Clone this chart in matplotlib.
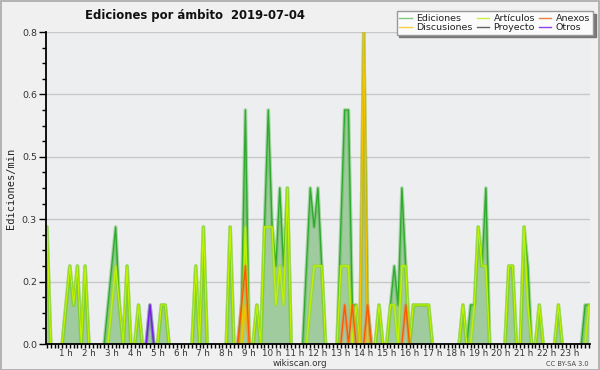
import matplotlib
matplotlib.use("Agg")
import matplotlib.pyplot as plt
import numpy as np
from matplotlib.ticker import FixedLocator, MultipleLocator, FuncFormatter
from matplotlib.lines import Line2D
from matplotlib.patches import Rectangle

title = "Ediciones por ámbito  2019-07-04"
hours = list(range(1, 24))
hour_labels = [f"{h} h" for h in hours]
y_ticks = [0.0, 0.16, 0.32, 0.48, 0.64, 0.8]

# edits per minute, 10-minute bins (each row = 2 hours)
ediciones = [
    0.3, 0.3, 0, 0, 0, 0,      0.1, 0.2, 0.1, 0.2, 0, 0.2,
    0, 0, 0, 0, 0, 0.1,        0.2, 0.3, 0.1, 0, 0.2, 0,
    0, 0.1, 0, 0, 0.1, 0,      0, 0.1, 0.1, 0, 0, 0,
    0, 0, 0, 0, 0.2, 0,        0.3, 0, 0, 0, 0, 0,
    0, 0.3, 0, 0, 0.1, 0.6,    0, 0, 0.1, 0, 0.3, 0.6,
    0.3, 0.2, 0.4, 0.2, 0.4, 0, 0, 0, 0, 0.2, 0.4, 0.3,
    0.4, 0.2, 0, 0, 0, 0,      0.3, 0.6, 0.6, 0.1, 0.1, 0,
    0.8, 0.1, 0, 0, 0.1, 0,    0, 0.1, 0.2, 0.1, 0.4, 0.2,
    0, 0.1, 0.1, 0.1, 0.1, 0.1, 0, 0, 0, 0, 0, 0,
    0, 0, 0.1, 0, 0.1, 0.1,    0.3, 0.2, 0.4, 0, 0, 0,
    0, 0, 0.2, 0.2, 0, 0,      0.3, 0.2, 0, 0, 0.1, 0,
    0, 0, 0, 0.1, 0, 0,        0, 0, 0, 0, 0.1, 0.1,
]
articulos = [
    0.3, 0.3, 0, 0, 0, 0,      0.1, 0.2, 0.1, 0.2, 0, 0.2,
    0, 0, 0, 0, 0, 0,          0.1, 0.2, 0.1, 0, 0.2, 0,
    0, 0.1, 0, 0, 0, 0,        0, 0.1, 0.1, 0, 0, 0,
    0, 0, 0, 0, 0.2, 0,        0.3, 0, 0, 0, 0, 0,
    0, 0.3, 0, 0, 0, 0.3,      0, 0, 0.1, 0, 0.3, 0.3,
    0.3, 0.1, 0.2, 0.1, 0.4, 0, 0, 0, 0, 0, 0.1, 0.2,
    0.2, 0.2, 0, 0, 0, 0,      0.2, 0.2, 0.2, 0, 0.1, 0,
    0, 0, 0, 0, 0.1, 0,        0, 0.1, 0.1, 0, 0.2, 0.2,
    0, 0.1, 0.1, 0.1, 0.1, 0.1, 0, 0, 0, 0, 0, 0,
    0, 0, 0.1, 0, 0, 0.1,      0.3, 0.2, 0.2, 0, 0, 0,
    0, 0, 0.2, 0.2, 0, 0,      0.3, 0.1, 0, 0, 0.1, 0,
    0, 0, 0, 0.1, 0, 0,        0, 0, 0, 0, 0, 0.1,
]
anexos = [
    0, 0, 0, 0, 0, 0,          0, 0, 0, 0, 0, 0,
    0, 0, 0, 0, 0, 0,          0, 0, 0, 0, 0, 0,
    0, 0, 0, 0, 0, 0,          0, 0, 0, 0, 0, 0,
    0, 0, 0, 0, 0, 0,          0, 0, 0, 0, 0, 0,
    0, 0, 0, 0, 0.1, 0.2,      0, 0, 0, 0, 0, 0,
    0, 0, 0, 0, 0, 0,          0, 0, 0, 0, 0, 0,
    0, 0, 0, 0, 0, 0,          0, 0.1, 0, 0.1, 0, 0,
    0, 0.1, 0, 0, 0, 0,        0, 0, 0, 0, 0, 0.1,
    0, 0, 0, 0, 0, 0,          0, 0, 0, 0, 0, 0,
    0, 0, 0, 0, 0, 0,          0, 0, 0, 0, 0, 0,
    0, 0, 0, 0, 0, 0,          0, 0, 0, 0, 0, 0,
    0, 0, 0, 0, 0, 0,          0, 0, 0, 0, 0, 0,
]
discusiones = [
    0, 0, 0, 0, 0, 0,          0, 0, 0, 0, 0, 0,
    0, 0, 0, 0, 0, 0,          0, 0, 0, 0, 0, 0,
    0, 0, 0, 0, 0, 0,          0, 0, 0, 0, 0, 0,
    0, 0, 0, 0, 0, 0,          0, 0, 0, 0, 0, 0,
    0, 0, 0, 0, 0, 0.1,        0, 0, 0, 0, 0, 0,
    0, 0, 0, 0, 0, 0,          0, 0, 0, 0, 0, 0,
    0, 0, 0, 0, 0, 0,          0, 0, 0, 0, 0, 0,
    0.8, 0, 0, 0, 0, 0,        0, 0, 0, 0, 0, 0,
    0, 0, 0, 0, 0, 0,          0, 0, 0, 0, 0, 0,
    0, 0, 0, 0, 0, 0,          0, 0, 0, 0, 0, 0,
    0, 0, 0, 0, 0, 0,          0, 0, 0, 0, 0, 0,
    0, 0, 0, 0, 0, 0,          0, 0, 0, 0, 0, 0,
]
proyecto = [
    0, 0, 0, 0, 0, 0,          0, 0, 0, 0, 0, 0,
    0, 0, 0, 0, 0, 0,          0, 0, 0, 0, 0, 0,
    0, 0, 0, 0, 0, 0,          0, 0, 0, 0, 0, 0,
    0, 0, 0, 0, 0, 0,          0, 0, 0, 0, 0, 0,
    0, 0, 0, 0, 0, 0,          0, 0, 0, 0, 0, 0,
    0, 0, 0, 0, 0, 0,          0, 0, 0, 0, 0, 0,
    0, 0, 0, 0, 0, 0,          0, 0, 0, 0, 0, 0,
    0, 0, 0, 0, 0, 0,          0, 0, 0, 0, 0, 0,
    0, 0, 0, 0, 0, 0,          0, 0, 0, 0, 0, 0,
    0, 0, 0, 0, 0, 0,          0, 0, 0, 0, 0, 0,
    0, 0, 0, 0, 0, 0,          0, 0, 0, 0, 0, 0,
    0, 0, 0, 0, 0, 0,          0, 0, 0, 0, 0, 0,
]
otros = [
    0, 0, 0, 0, 0, 0,          0, 0, 0, 0, 0, 0,
    0, 0, 0, 0, 0, 0,          0, 0, 0, 0, 0, 0,
    0, 0, 0, 0, 0.1, 0,        0, 0, 0, 0, 0, 0,
    0, 0, 0, 0, 0, 0,          0, 0, 0, 0, 0, 0,
    0, 0, 0, 0, 0, 0,          0, 0, 0, 0, 0, 0,
    0, 0, 0, 0, 0, 0,          0, 0, 0, 0, 0, 0,
    0, 0, 0, 0, 0, 0,          0, 0, 0, 0, 0, 0,
    0, 0, 0, 0, 0, 0,          0, 0, 0, 0, 0, 0,
    0, 0, 0, 0, 0, 0,          0, 0, 0, 0, 0, 0,
    0, 0, 0, 0, 0, 0,          0, 0, 0, 0, 0, 0,
    0, 0, 0, 0, 0, 0,          0, 0, 0, 0, 0, 0,
    0, 0, 0, 0, 0, 0,          0, 0, 0, 0, 0, 0,
]

fig = plt.figure(figsize=(6, 3.7), dpi=100, facecolor="#f0f0f0")
fig.patches.append(Rectangle((0.001, 0.001), 0.998, 0.997, transform=fig.transFigure,
                             fill=False, edgecolor="#a8a8a8", lw=1.2))
ax = fig.add_axes([46 / 600, 26 / 370, 544 / 600, 312 / 370])
ax.set_facecolor("#eceef0")

t = np.arange(len(ediciones)) / 6.0

ax.fill_between(t, 0, ediciones, color="#9fcb9f", lw=0, zorder=2)


def hide_flat_zero(values):
    # keep a point if it, or one of its neighbours, is non-zero
    v = np.asarray(values, dtype=float)
    nz = v != 0
    keep = nz.copy()
    keep[1:] |= nz[:-1]
    keep[:-1] |= nz[1:]
    return np.where(keep, v, np.nan)


def glow(values, core, halo, z, lw=1.0, hw=2.6, ha=0.45):
    y = hide_flat_zero(values)
    ax.plot(t, y, color=halo, lw=hw, alpha=ha, zorder=z)
    ax.plot(t, y, color=core, lw=lw, zorder=z + 0.1)


glow(ediciones, "#2faa2f", "#55b84a", 3)
glow(articulos, "#bff200", "#8cdc00", 4)
glow(discusiones, "#f5c400", "#f0b000", 5)
glow(anexos, "#ff5a00", "#f08040", 6)
glow(proyecto, "#505050", "#808080", 6.5, hw=1.5)
glow(otros, "#7a1cf0", "#8a40f0", 7)

ax.set_xlim(0.127, 23.88)
ax.set_ylim(0, 0.8)

ax.yaxis.set_major_locator(FixedLocator(y_ticks))
ax.yaxis.set_minor_locator(MultipleLocator(0.04))
ax.yaxis.set_major_formatter(FuncFormatter(lambda v, p: f"{v:.1f}"))
ax.xaxis.set_major_locator(FixedLocator(hours))
ax.xaxis.set_minor_locator(MultipleLocator(1 / 6))
ax.set_xticklabels(hour_labels)

ax.grid(axis="y", which="major", color="#c8c8c8", lw=1, zorder=0)
ax.set_axisbelow(True)
for s in ("top", "right"):
    ax.spines[s].set_visible(False)
for s in ("left", "bottom"):
    ax.spines[s].set_color("black")
    ax.spines[s].set_linewidth(1.3)
    ax.spines[s].set_zorder(10)

ax.tick_params(axis="y", which="major", length=5, width=1, labelsize=6.8, colors="black",
               labelcolor="#333333", pad=1.5)
ax.tick_params(axis="y", which="minor", length=3, width=1)
ax.tick_params(axis="x", which="major", length=3, width=1, labelsize=6.3,
               labelcolor="#333333", pad=0.5)
ax.tick_params(axis="x", which="minor", length=3, width=1)

ax.set_ylabel("Ediciones/min", fontsize=7.5, family="DejaVu Sans Mono", color="#222222",
              labelpad=4)

fig.text(85 / 600, 1 - 15 / 370, title, fontsize=8.4, fontweight="bold", ha="left",
         va="center", color="#111111")
fig.text(300 / 600, 1 - 363.5 / 370, "wikiscan.org", fontsize=6.3, ha="center", va="center",
         color="#333333")
fig.text(589 / 600, 1 - 363.5 / 370, "CC BY-SA 3.0", fontsize=4.8, ha="right", va="center",
         color="#444444")

legend_colors = {
    "Ediciones": "#80c880",
    "Artículos": "#c8f040",
    "Anexos": "#f08040",
    "Discusiones": "#f8d040",
    "Proyecto": "#606060",
    "Otros": "#9040f0",
}
order = ["Ediciones", "Discusiones", "Artículos", "Proyecto", "Anexos", "Otros"]
handles = [Line2D([], [], color=legend_colors[n], lw=1) for n in order]
leg = fig.legend(handles, order, loc="upper right", bbox_to_anchor=(593 / 600, 1 - 11 / 370),
                 ncol=3, fontsize=6.8, frameon=True, fancybox=False,
                 shadow={"color": "#777777", "alpha": 1.0},
                 handlelength=1.3, handletextpad=0.5, columnspacing=0.4,
                 labelspacing=0.0, borderpad=0.3, borderaxespad=0)
leg.get_frame().set_facecolor("#fbfbfb")
leg.get_frame().set_edgecolor("#999999")
leg.get_frame().set_linewidth(1)
for txt in leg.get_texts():
    txt.set_color("#222222")

fig.savefig("out.png", dpi=100, facecolor=fig.get_facecolor())
